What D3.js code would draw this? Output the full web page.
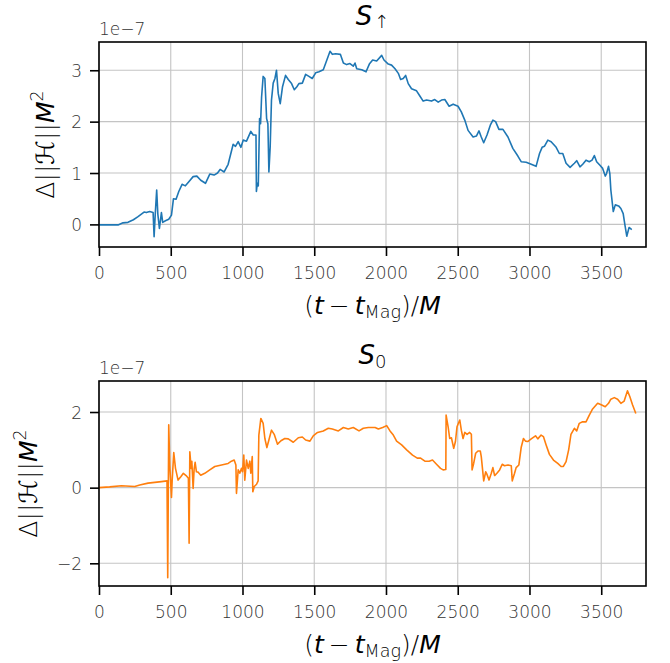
<!DOCTYPE html>
<html>
<head>
<meta charset="utf-8">
<script src="https://cdn.jsdelivr.net/npm/d3@7"></script>
<style>
  html, body { margin: 0; padding: 0; background: #fff; }
  svg { display: block; font-family: "DejaVu Sans", sans-serif; }
</style>
</head>
<body>
<svg id="chart" width="670" height="663"></svg>
<script>
// ---------------- data (values in units of 1e-7) ----------------
const xTicks = [0, 500, 1000, 1500, 2000, 2500, 3000, 3500];
const topYTicks = [0, 1, 2, 3];
const botYTicks = [-2, 0, 2];
const offsetLabel = "1e\u22127";

const upT = [0,133,167,202,240,272,300,314,330,353,377,384,392,402,410,421,435,444,463,486,505,519,537,556,579,602,626,656,682,709,742,772,802,826,844,872,900,935,951,970,989,1005,1028,1058,1075,1094,1097,1103,1110,1119,1126,1133,1144,1156,1168,1177,1184,1193,1202,1214,1226,1237,1249,1263,1279,1300,1319,1342,1361,1379,1393,1417,1440,1463,1486,1510,1533,1563,1579,1610,1626,1649,1682,1703,1726,1749,1772,1784,1796,1831,1861,1884,1907,1935,1970,1986,2016,2039,2063,2086,2102,2120,2137,2155,2178,2213,2236,2259,2283,2317,2340,2364,2387,2410,2440,2468,2502,2525,2549,2572,2607,2630,2648,2664,2681,2704,2727,2745,2764,2787,2815,2850,2884,2919,2942,2977,3012,3046,3070,3088,3104,3128,3151,3186,3208,3232,3255,3283,3313,3329,3352,3371,3394,3417,3436,3452,3468,3491,3510,3528,3537,3551,3560,3567,3584,3598,3621,3637,3653,3665,3678,3694,3713];
const upV = [-0.01,-0.01,0.03,0.04,0.09,0.15,0.21,0.24,0.23,0.25,0.23,-0.24,0.2,0.67,0.2,-0.08,0.23,0.04,0.07,0.10,0.18,0.50,0.49,0.64,0.78,0.75,0.83,0.93,0.94,0.86,0.80,0.98,0.96,1.00,1.07,1.02,1.17,1.56,1.52,1.61,1.50,1.64,1.62,1.81,1.74,1.74,0.64,0.80,0.75,2.06,1.96,2.48,2.88,2.84,2.06,1.96,1.02,1.51,2.42,2.75,2.84,3.00,2.55,2.35,2.68,2.90,2.82,2.74,2.62,2.68,2.74,2.75,2.92,2.88,2.84,2.95,2.97,3.01,3.13,3.37,3.31,3.32,3.31,3.14,3.11,3.13,3.08,3.14,3.03,3.01,2.97,3.12,3.20,3.18,3.29,3.20,3.12,3.10,3.03,2.94,2.82,2.84,2.90,2.74,2.64,2.60,2.50,2.40,2.42,2.40,2.43,2.38,2.42,2.43,2.30,2.34,2.30,2.19,2.03,1.83,1.70,1.72,1.82,1.70,1.59,1.74,1.93,2.03,2.00,1.85,1.85,1.70,1.48,1.33,1.22,1.21,1.17,1.13,1.38,1.50,1.52,1.64,1.61,1.50,1.38,1.38,1.19,1.11,1.19,1.24,1.12,1.17,1.25,1.22,1.25,1.34,1.22,1.15,1.09,0.94,0.99,1.13,0.99,0.67,0.25,0.38,0.36,0.31,0.21,-0.01,-0.23,-0.06,-0.10];

const zeroT = [0,74,156,249,284,342,435,474,479,486,493,505,510,521,533,551,570,588,607,623,628,633,642,647,656,663,670,679,691,709,737,772,807,854,900,923,942,954,958,970,981,993,1000,1009,1016,1028,1040,1051,1058,1068,1072,1082,1098,1109,1114,1128,1144,1156,1170,1184,1202,1221,1244,1268,1295,1319,1354,1389,1417,1440,1470,1493,1523,1563,1598,1626,1668,1703,1737,1772,1812,1842,1877,1924,1947,1977,2005,2028,2051,2074,2109,2144,2185,2218,2241,2271,2301,2324,2352,2380,2398,2417,2419,2433,2444,2456,2472,2484,2495,2514,2525,2537,2549,2565,2583,2595,2600,2611,2625,2641,2657,2664,2681,2695,2704,2718,2734,2745,2757,2773,2792,2810,2826,2850,2873,2880,2896,2907,2926,2942,2958,2972,2988,3012,3042,3058,3081,3097,3116,3139,3167,3197,3220,3236,3255,3273,3289,3313,3329,3347,3370,3394,3417,3440,3475,3500,3528,3551,3567,3591,3614,3637,3660,3683,3699,3718,3741];
const zeroV = [0,0.02,0.05,0.03,0.07,0.12,0.16,0.18,-2.38,1.66,0.60,-0.26,0.2,0.93,0.51,0.20,0.29,0.38,0.32,0.25,-1.47,0.95,0.51,0.70,-0.02,0.49,0.67,0.42,0.41,0.33,0.38,0.47,0.56,0.60,0.64,0.70,0.73,0.60,-0.15,0.47,0.38,0.51,0.42,0.86,0.20,0.73,0.51,0.70,0.38,0.82,-0.11,0.03,0.09,0.18,1.39,1.83,1.70,1.30,1.06,1.26,1.52,1.41,1.15,1.24,1.30,1.29,1.20,1.32,1.34,1.26,1.23,1.37,1.46,1.50,1.57,1.55,1.50,1.59,1.55,1.59,1.50,1.57,1.59,1.59,1.55,1.59,1.64,1.50,1.39,1.23,1.13,1.00,0.86,0.78,0.78,0.70,0.70,0.73,0.62,0.51,0.47,0.48,1.92,1.61,1.30,1.32,1.04,1.22,1.61,1.79,1.52,1.30,1.46,1.41,1.46,1.41,0.47,0.64,0.91,0.97,0.97,0.82,0.18,0.42,0.35,0.20,0.38,0.53,0.32,0.38,0.47,0.62,0.58,0.60,0.58,0.18,0.38,0.53,0.60,1.06,1.30,1.23,1.22,1.29,1.37,1.29,1.39,1.35,1.13,0.88,0.73,0.64,0.56,0.56,0.69,1.00,1.41,1.57,1.50,1.70,1.74,1.74,1.92,2.08,2.23,2.19,2.14,2.23,2.34,2.38,2.34,2.23,2.29,2.56,2.41,2.19,1.96];

// ---------------- layout ----------------
const svg = d3.select("#chart");
const W = 670, H = 663;
svg.append("rect").attr("width", W).attr("height", H).attr("fill", "#fff");

const left = 99, right = 646;
const xDomain = [0, 3812];

const panels = [
  { top: 42, bottom: 247, t: upT, v: upV, yDomain: [-0.44, 3.55], yTicks: topYTicks,
    color: "#1f77b4", title: "up", ylabelX: 54 },
  { top: 381, bottom: 586, t: zeroT, v: zeroV, yDomain: [-2.60, 2.82], yTicks: botYTicks,
    color: "#ff7f0e", title: "0", ylabelX: 37 }
];

const tickColor = "#333";
const LIGHT = 200;

panels.forEach((p, i) => {
  const x = d3.scaleLinear().domain(xDomain).range([left, right]);
  const y = d3.scaleLinear().domain(p.yDomain).range([p.bottom, p.top]);
  const g = svg.append("g");

  // grid
  g.append("g").selectAll("line").data(xTicks).join("line")
    .attr("x1", d => x(d)).attr("x2", d => x(d))
    .attr("y1", p.top).attr("y2", p.bottom)
    .attr("stroke", "#c4c4c4").attr("stroke-width", 1.1);
  g.append("g").selectAll("line").data(p.yTicks).join("line")
    .attr("y1", d => y(d)).attr("y2", d => y(d))
    .attr("x1", left).attr("x2", right)
    .attr("stroke", "#c4c4c4").attr("stroke-width", 1.1);

  // data line
  const pts = p.t.map((t, k) => [t, p.v[k]]);
  const clipId = "clip" + i;
  svg.append("clipPath").attr("id", clipId).append("rect")
    .attr("x", left).attr("y", p.top).attr("width", right - left).attr("height", p.bottom - p.top);
  g.append("path").datum(pts)
    .attr("clip-path", `url(#${clipId})`)
    .attr("fill", "none").attr("stroke", p.color).attr("stroke-width", 1.6)
    .attr("stroke-linejoin", "round")
    .attr("d", d3.line().x(d => x(d[0])).y(d => y(d[1])));

  // axes
  const xAxis = d3.axisBottom(x).tickValues(xTicks).tickSize(9).tickPadding(6).tickFormat(d3.format("d"));
  const yAxis = d3.axisLeft(y).tickValues(p.yTicks).tickSize(9).tickPadding(8)
    .tickFormat(d => d < 0 ? "\u2212" + Math.abs(d) : String(d));

  const gx = g.append("g").attr("transform", `translate(0,${p.bottom})`).call(xAxis);
  const gy = g.append("g").attr("transform", `translate(${left},0)`).call(yAxis);
  [gx, gy].forEach(a => {
    a.select(".domain").remove();
    a.selectAll(".tick line").attr("stroke", "#000").attr("stroke-width", 1.6);
    a.selectAll(".tick text").attr("fill", tickColor)
      .attr("font-family", "DejaVu Sans").attr("font-weight", LIGHT).attr("font-size", 17);
  });
  gx.selectAll(".tick text").attr("dy", null).attr("y", 32).attr("dominant-baseline", "auto");
  gy.selectAll(".tick text").attr("dy", "0.36em");

  // spines
  g.append("rect").attr("x", left).attr("y", p.top)
    .attr("width", right - left).attr("height", p.bottom - p.top)
    .attr("fill", "none").attr("stroke", "#000").attr("stroke-width", 1.6);

  // offset text
  g.append("text").attr("x", left).attr("y", p.top - 7)
    .attr("font-size", 17).attr("font-weight", LIGHT).attr("fill", tickColor).text(offsetLabel);

  // title
  const cx = (left + right) / 2;
  const tt = g.append("text").attr("x", cx).attr("y", p.top - 17)
    .attr("text-anchor", "middle").attr("font-size", 26).attr("fill", "#000");
  tt.append("tspan").attr("font-style", "italic").text("S");
  if (p.title === "up") {
    tt.append("tspan").attr("font-size", 18).attr("font-weight", LIGHT).attr("dy", 3).attr("dx", 2).text("\u2191");
  } else {
    tt.append("tspan").attr("font-size", 18).attr("font-weight", LIGHT).attr("dy", 4).text("0");
  }

  // x label
  const xl = g.append("text").attr("x", cx).attr("y", p.bottom + 67)
    .attr("text-anchor", "middle").attr("font-size", 25).attr("fill", "#000");
  xl.append("tspan").attr("font-weight", LIGHT).text("(");
  xl.append("tspan").attr("font-style", "italic").text("t");
  xl.append("tspan").attr("font-weight", LIGHT).text("\u2009\u2212\u2009");
  xl.append("tspan").attr("font-style", "italic").text("t");
  xl.append("tspan").attr("font-size", 17.5).attr("font-weight", LIGHT).attr("dy", 4).text("Mag");
  xl.append("tspan").attr("font-weight", LIGHT).attr("dy", -4).text(")/");
  xl.append("tspan").attr("font-style", "italic").text("M");

  // y label
  const ymid = (p.top + p.bottom) / 2;
  const yl = g.append("text")
    .attr("transform", `translate(${p.ylabelX},${ymid}) rotate(-90)`)
    .attr("text-anchor", "middle").attr("font-size", 25).attr("fill", "#000");
  yl.append("tspan").attr("font-weight", LIGHT).text("\u0394||");
  yl.append("tspan").attr("font-style", "italic").text("\u210B");
  yl.append("tspan").attr("font-weight", LIGHT).text("||");
  yl.append("tspan").attr("font-style", "italic").text("M");
  yl.append("tspan").attr("font-size", 17.5).attr("font-weight", LIGHT).attr("dy", -11).text("2");
});
</script>
</body>
</html>
